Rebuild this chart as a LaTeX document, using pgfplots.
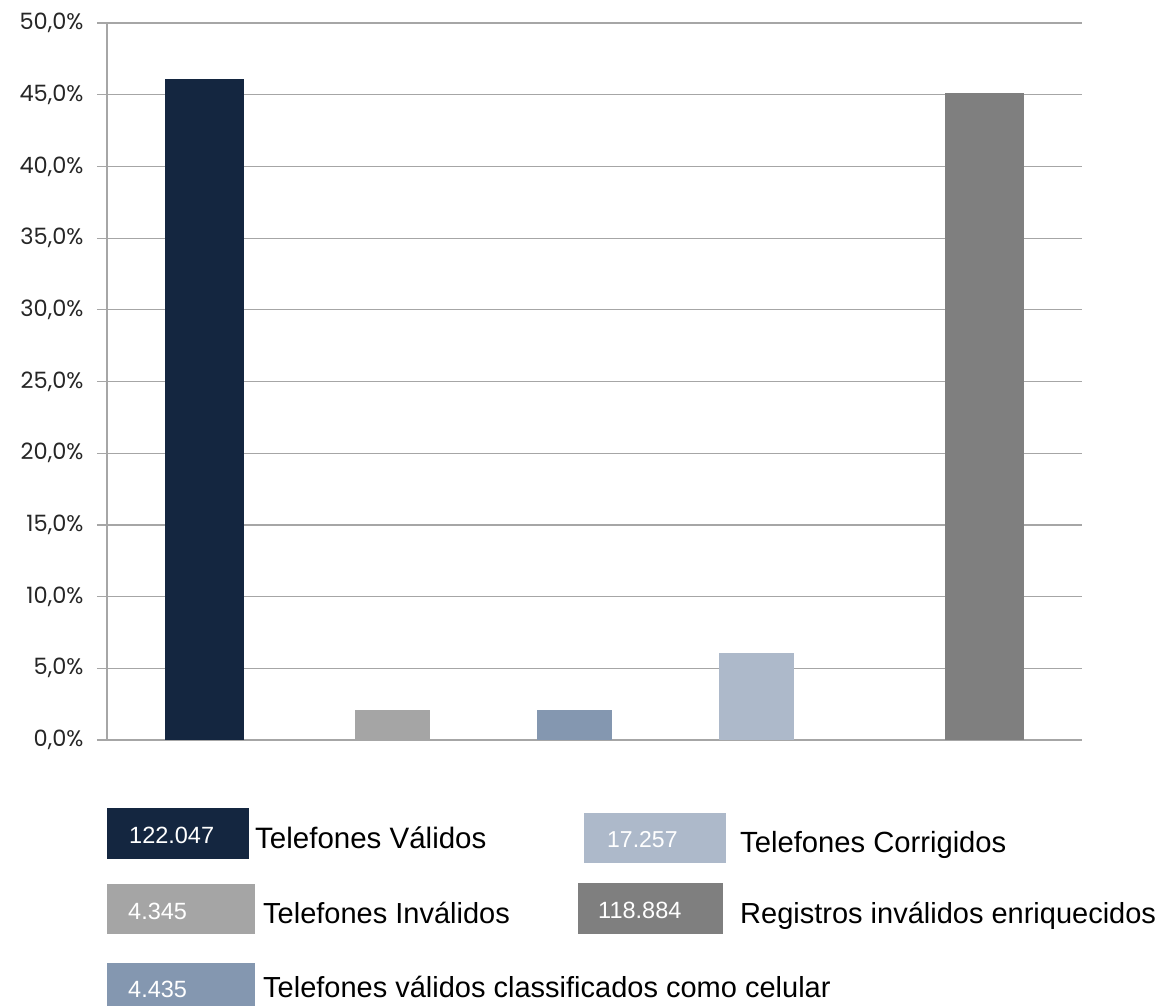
\documentclass[border=0pt]{standalone}
\usepackage{pgfplots}
\pgfplotsset{compat=1.18}
\usepackage{fontspec}
\setmainfont{Liberation Sans}
\newfontfamily\tickfont{Poppins}

\definecolor{cValid}{HTML}{142640}
\definecolor{cInval}{HTML}{A5A5A5}
\definecolor{cCel}{HTML}{8497B0}
\definecolor{cCorr}{HTML}{ADB9CA}
\definecolor{cEnr}{HTML}{7F7F7F}
\definecolor{gridc}{HTML}{A6A6A6}

\begin{document}
\begin{tikzpicture}
\useasboundingbox (0,0) rectangle (1162pt,-1005pt);
\begin{axis}[
    at={(107pt,-740pt)}, anchor=south west,
    scale only axis, width=975pt, height=717pt,
    xmin=-0.5, xmax=4.5, ymin=0, ymax=50,
    axis x line*=bottom, axis y line*=left,
    axis line style={-, draw=gridc, line width=1.2pt},
    xtick=\empty,
    ytick={0,5,...,50},
    ymajorgrids,
    grid style={draw=gridc, line width=1.2pt},
    tick align=outside, major tick length=10pt,
    ytick style={draw=gridc, line width=1.2pt},
    /pgf/number format/assume math mode=true,
    /pgf/number format/.cd, fixed, fixed zerofill, precision=1, use comma,
    /pgfplots/.cd,
    yticklabel={\pgfmathprintnumber{\tick}\%},
    yticklabel style={font=\tickfont\fontsize{22.5}{23}\selectfont, text=black!85, xshift=-10pt},
  ]
  \addplot[ybar, bar shift=0pt, bar width=0.41, fill=cValid, draw=none] coordinates {(0,46.1)};
  \addplot[ybar, bar shift=0pt, bar width=0.385, fill=cInval, draw=none] coordinates {(0.962,2.1)};
  \addplot[ybar, bar shift=0pt, bar width=0.385, fill=cCel, draw=none] coordinates {(1.897,2.1)};
  \addplot[ybar, bar shift=0pt, bar width=0.385, fill=cCorr, draw=none] coordinates {(2.831,6.1)};
  \addplot[ybar, bar shift=0pt, bar width=0.405, fill=cEnr, draw=none] coordinates {(4.0,45.1)};
\end{axis}

% legend boxes
\fill[cValid] (107pt,-808pt) rectangle (249pt,-859pt);
\node[anchor=base west, inner sep=0, text=white, font=\fontsize{23.5}{24}\selectfont] at (129pt,-843pt) {122.047};
\node[anchor=base west, inner sep=0, font=\fontsize{29.5}{30}\selectfont] at (255pt,-848pt) {Telefones Válidos};

\fill[cInval] (107pt,-884pt) rectangle (255pt,-934pt);
\node[anchor=base west, inner sep=0, text=white, font=\fontsize{23.5}{24}\selectfont] at (128pt,-919pt) {4.345};
\node[anchor=base west, inner sep=0, font=\fontsize{29}{30}\selectfont] at (263pt,-923pt) {Telefones Inválidos};

\fill[cCel] (107pt,-963pt) rectangle (255pt,-1013pt);
\node[anchor=base west, inner sep=0, text=white, font=\fontsize{23.5}{24}\selectfont] at (128pt,-997pt) {4.435};
\node[anchor=base west, inner sep=0, font=\fontsize{29}{30}\selectfont] at (263pt,-997pt) {Telefones válidos classificados como celular};

\fill[cCorr] (584pt,-813pt) rectangle (726pt,-863pt);
\node[anchor=base west, inner sep=0, text=white, font=\fontsize{23}{24}\selectfont] at (607pt,-847pt) {17.257};
\node[anchor=base west, inner sep=0, font=\fontsize{29.2}{30}\selectfont] at (740pt,-852pt) {Telefones Corrigidos};

\fill[cEnr] (578pt,-883pt) rectangle (723pt,-934pt);
\node[anchor=base west, inner sep=0, text=white, font=\fontsize{23.5}{24}\selectfont] at (598pt,-918pt) {118.884};
\node[anchor=base west, inner sep=0, font=\fontsize{29}{30}\selectfont] at (740pt,-923pt) {Registros inválidos enriquecidos};
\end{tikzpicture}
\end{document}
